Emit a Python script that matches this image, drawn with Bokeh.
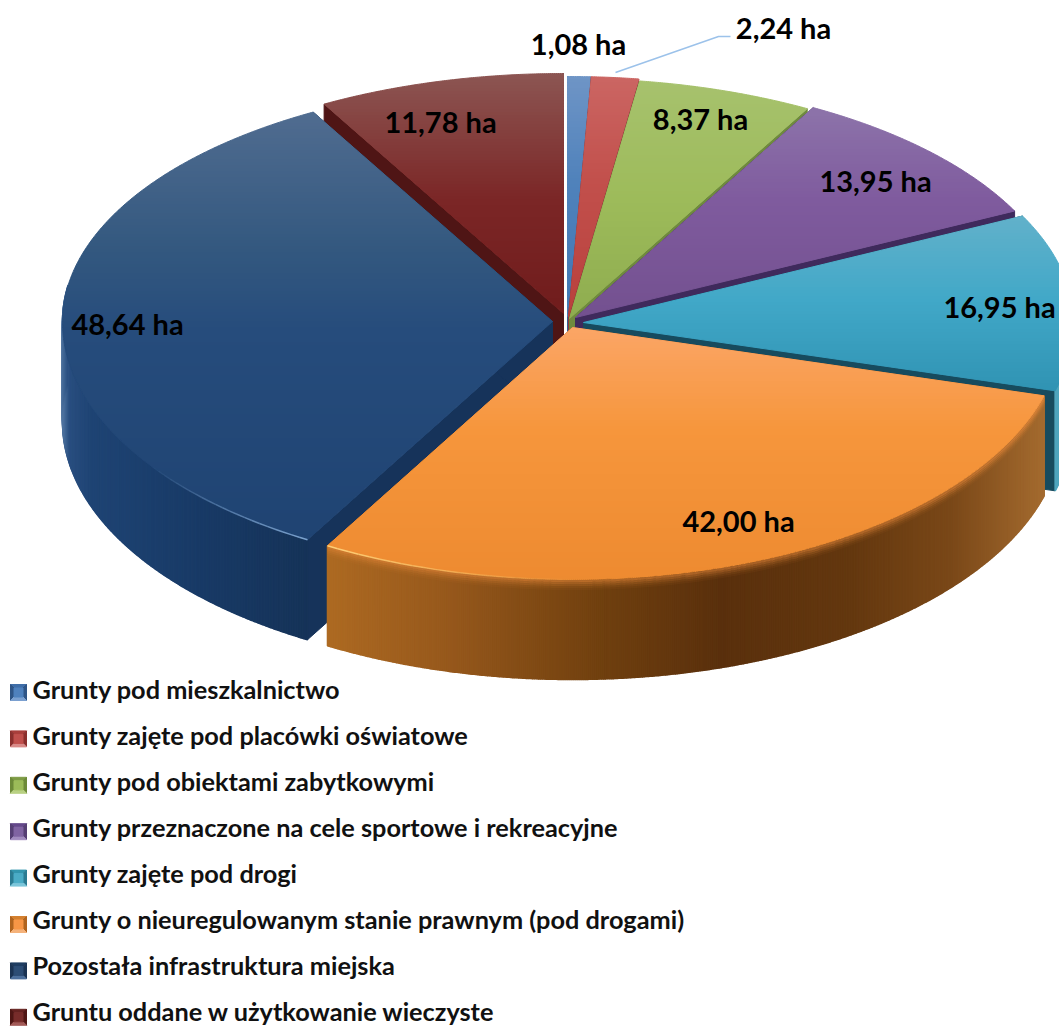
import numpy as np
from bokeh.plotting import figure
from bokeh.models import Range1d
from bokeh.core.properties import value
from bokeh.embed import file_html
from bokeh.resources import INLINE

# ---- data ----
categories = ["Grunty pod mieszkalnictwo", "Grunty zajęte pod placówki oświatowe",
              "Grunty pod obiektami zabytkowymi", "Grunty przeznaczone na cele sportowe  i rekreacyjne",
              "Grunty zajęte pod drogi", "Grunty o nieuregulowanym stanie prawnym (pod drogami)",
              "Pozostała infrastruktura miejska", "Gruntu oddane w użytkowanie wieczyste"]
hectares = [1.08, 2.24, 8.37, 13.95, 16.95, 42.00, 48.64, 11.78]
value_labels = ["1,08 ha", "2,24 ha", "8,37 ha", "13,95 ha", "16,95 ha", "42,00 ha", "48,64 ha", "11,78 ha"]

# ---- layout (pixel space of the page) ----
W, H = 1059, 1026
RX, RY_BACK, RY_FRONT, DEPTH = 490.0, 240.0, 252.0, 100.0
tips = [(567, 316), (568, 316), (569, 318), (575, 317), (583, 322), (572, 327), (552, 321), (563, 313)]
label_pos = [(578, 43), (783, 27), (700, 118), (875, 180), (999, 306), (738, 520), (127, 323), (440, 121)]
FONT = "Lato"
LABEL_SIZE = "29px"
LEGEND_SIZE = "25.3px"

# ---- styles ----
top_stops = [
    [(75, "#6f95c6"), (180, "#5082bb"), (330, "#3f76b3")],
    [(75, "#cb6663"), (180, "#c2504c"), (330, "#b83f3b")],
    [(77, "#a7c26e"), (200, "#9dbb5a"), (330, "#8dab4e")],
    [(105, "#8d74aa"), (200, "#7f5b9e"), (320, "#73508f")],
    [(215, "#62b1ca"), (300, "#41a8c8"), (395, "#2f92b2")],
    [(330, "#fba565"), (430, "#f6963c"), (585, "#ed8a30")],
    [(113, "#506c90"), (250, "#33587f"), (330, "#264c7c"), (545, "#1f4372")],
    [(75, "#8c5552"), (200, "#7b2626"), (315, "#701c1c")],
]
wall_colors = ["#2f5f96", "#8f3a3a", "#6f8a3e", "#3f2a5c", "#174b5e", "#9a5a1f", "#16335a", "#4f1515"]
side_stops = [
    [(0, "#2f5f96"), (1059, "#2f5f96")],
    [(0, "#8f3a3a"), (1059, "#8f3a3a")],
    [(0, "#6f8a3e"), (1059, "#6f8a3e")],
    [(0, "#3f2a5c"), (1059, "#3f2a5c")],
    [(0, "#2a8aa6"), (1059, "#4fa5bd")],
    [(327, "#ad6a22"), (450, "#96581c"), (600, "#70400f"), (720, "#5a300d"), (850, "#64380f"), (950, "#7a4818"), (1045, "#a56c30")],
    [(60, "#5a7ea8"), (68, "#2a4f80"), (90, "#1f4474"), (200, "#183a66"), (310, "#163358")],
    [(0, "#4f1515"), (1059, "#4f1515")],
]
legend_base = ["#4f81bd", "#c0504d", "#9bbb59", "#8064a2", "#4bacc6", "#f79646", "#2c4d75", "#772c2a"]
legend_light = ["#7ba0d0", "#d98a88", "#b9d184", "#a28cbf", "#7cc6da", "#f5b27a", "#4c6f9c", "#a35a58"]
legend_dark = ["#2f5586", "#8a2f2d", "#6c8a38", "#553f73", "#2a7b92", "#b0641f", "#1a3353", "#4e1614"]
legend_mid = ["#3f6ea8", "#a83f3c", "#7e9b45", "#64498a", "#3295ae", "#d4802f", "#1f3d62", "#642220"]


def rgb(h):
    return np.array([int(h[i:i + 2], 16) for i in (1, 3, 5)], dtype=float)


def ramp(stops, v):
    xs = [s[0] for s in stops]
    cs = np.array([rgb(s[1]) for s in stops])
    c = [np.interp(v, xs, cs[:, i]) for i in range(3)]
    return "#%02x%02x%02x" % tuple(int(round(k)) for k in c)


def arc(t, tip):
    c = np.cos(t)
    ry = np.where(c > 0, RY_BACK, RY_FRONT)
    return tip[0] + RX * np.sin(t), tip[1] - ry * c


def clip_band(px, py, y0, y1):
    pts = list(zip(px, py))
    for lim, keep_low in ((y0, False), (y1, True)):
        out = []
        for i in range(len(pts)):
            a, b = pts[i - 1], pts[i]
            ina = a[1] <= lim if keep_low else a[1] >= lim
            inb = b[1] <= lim if keep_low else b[1] >= lim
            if ina != inb:
                f = (lim - a[1]) / (b[1] - a[1])
                out.append((a[0] + f * (b[0] - a[0]), lim))
            if inb:
                out.append(b)
        pts = out
        if not pts:
            return None
    return [p[0] for p in pts], [p[1] for p in pts]


p = figure(width=W, height=H, output_backend="svg", toolbar_location=None,
           x_range=Range1d(0, W), y_range=Range1d(H, 0), min_border=0, outline_line_color=None)
p.axis.visible = False
p.grid.visible = False

total = sum(hectares)
edges = np.concatenate([[0], np.cumsum(hectares)]) / total * 2 * np.pi
draw_order = [0, 1, 2, 3, 7, 4, 6, 5]


def draw(xs, ys, colors, lw=1):
    p.patches(xs, ys, fill_color=colors, line_color=colors, line_width=lw)


for i in draw_order:
    a, b = edges[i], edges[i + 1]
    tip = tips[i]
    t = np.linspace(a, b, max(6, int((b - a) * 250)))
    ax, ay = arc(t, tip)

    # cut walls
    wx, wy = [], []
    for k in (0, -1):
        wx.append([tip[0], ax[k], ax[k], tip[0]])
        wy.append([tip[1], ay[k], ay[k] + DEPTH, tip[1] + DEPTH])
    draw(wx, wy, [wall_colors[i]] * 2)

    # outer rim
    sx, sy, sc = [], [], []
    for k in range(len(t) - 1):
        if np.cos(t[k]) > 0.15:
            continue
        sx.append([ax[k], ax[k + 1], ax[k + 1], ax[k]])
        sy.append([ay[k], ay[k + 1], ay[k + 1] + DEPTH, ay[k] + DEPTH])
        sc.append(ramp(side_stops[i], 0.5 * (ax[k] + ax[k + 1])))
    if sx:
        draw(sx, sy, sc, lw=1.5)

    # soft bevel where the orange top turns into its rim
    if i == 5:
        for off, alpha in ((1.5, 0.55), (3.5, 0.38), (5.5, 0.24), (7.5, 0.12), (9.5, 0.05)):
            p.line(ax, ay + off, line_color="#e8893a", line_width=2.2, line_alpha=alpha)

    # top face, in horizontal bands
    px = [tip[0]] + list(ax)
    py = [tip[1]] + list(ay)
    bx, by, bc = [], [], []
    for y0 in np.arange(np.floor(min(py)), np.ceil(max(py)), 3.0):
        res = clip_band(px, py, y0, y0 + 3.0)
        if res:
            bx.append(res[0])
            by.append(res[1])
            bc.append(ramp(top_stops[i], y0 + 1.5))
    draw(bx, by, bc)

# lit front edges next to the cut between the two large slices
for i, col, span in ((5, "#ffd27a", 0.55), (6, "#7fa6d2", 0.45)):
    start = edges[i + 1] if i == 5 else edges[i]
    sgn = -1 if i == 5 else 1
    t = start + sgn * np.linspace(0, span, 24)
    x, y = arc(t, tips[i])
    p.multi_line([[x[k], x[k + 1]] for k in range(23)], [[y[k], y[k + 1]] for k in range(23)],
                 line_color=col, line_width=1.5, line_alpha=list(np.linspace(0.95, 0.0, 23)))

# leader line of the thin slice
p.line([615, 718, 730], [72, 36, 36], line_color="#9cc2ea", line_width=1.5)

# value labels
p.text([q[0] for q in label_pos], [q[1] for q in label_pos], text=value_labels,
       text_font=value(FONT), text_font_style="bold", text_font_size=value(LABEL_SIZE),
       text_align="center", text_baseline="middle", text_color="#000000")

# legend
rows = [692 + 46.4 * k for k in range(len(categories))]
for k, y in enumerate(rows):
    l, r, u, d = 10, 26, y - 8, y + 8
    e = 3.5
    draw([[l, r, r - e, l + e]], [[u, u, u + e, u + e]], [legend_mid[k]])
    draw([[l, l + e, l + e, l]], [[u, u + e, d - e, d]], [legend_dark[k]])
    draw([[r, r - e, r - e, r]], [[u, u + e, d - e, d]], [legend_dark[k]])
    draw([[l, r, r - e, l + e]], [[d, d, d - e, d - e]], [legend_light[k]])
    draw([[l + e, r - e, r - e, l + e]], [[u + e, u + e, d - e, d - e]], [legend_base[k]])
text_rows = [688.5 + 46.05 * k for k in range(len(categories))]
p.text([32] * len(rows), text_rows, text=categories, text_font=value(FONT), text_font_style="bold",
       text_font_size=value(LEGEND_SIZE), text_align="left", text_baseline="middle", text_color="#111111")

open("out.html", "w").write(file_html(p, INLINE))
